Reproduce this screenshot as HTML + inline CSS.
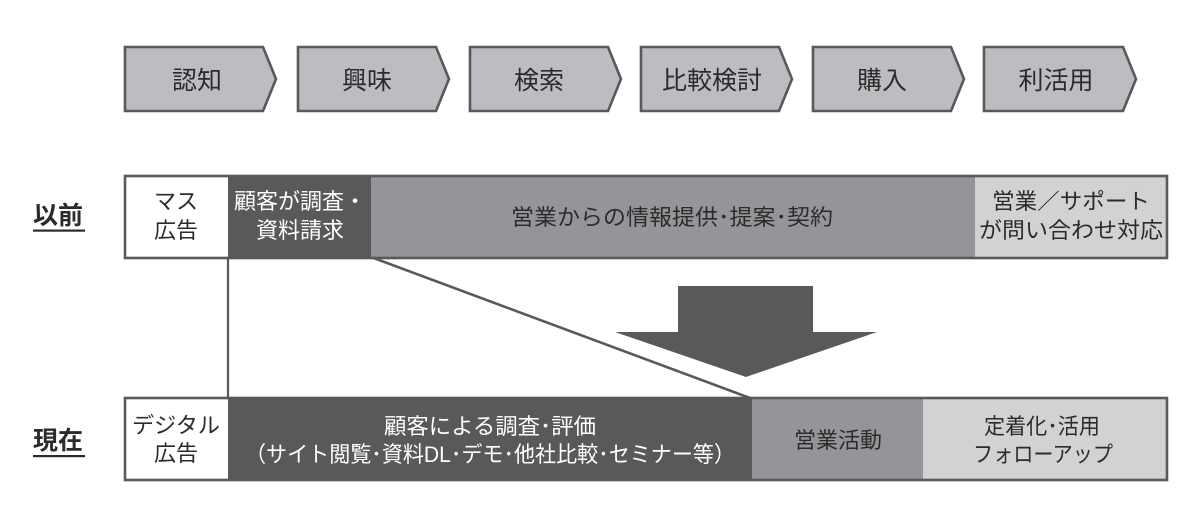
<!DOCTYPE html>
<html><head><meta charset="utf-8">
<style>
html,body{margin:0;padding:0;background:#fff;}
svg{display:block;}
text{font-family:"Liberation Sans","Noto Sans CJK JP",sans-serif;}
</style></head>
<body>
<svg width="1200" height="510" viewBox="0 0 1200 510" xmlns="http://www.w3.org/2000/svg">
<rect width="1200" height="510" fill="#fff"/>
<!-- chevrons -->
<g fill="#bcbdc0" stroke="#58595b" stroke-width="2.6" stroke-linejoin="miter">
<path d="M125,47 H263 L276,79 L263,111 H125 Z"/>
<path d="M298,47 H436 L449,79 L436,111 H298 Z"/>
<path d="M470,47 H608 L621,79 L608,111 H470 Z"/>
<path d="M641,47 H779 L792,79 L779,111 H641 Z"/>
<path d="M813,47 H951 L964,79 L951,111 H813 Z"/>
<path d="M984,47 H1123 L1136,79 L1123,111 H984 Z"/>
</g>
<g font-size="25" fill="#2b2b2b" text-anchor="middle">
<text x="197" y="89">認知</text>
<text x="367" y="89">興味</text>
<text x="539" y="89">検索</text>
<text x="712" y="89">比較検討</text>
<text x="882" y="89">購入</text>
<text x="1056" y="89">利活用</text>
</g>

<!-- labels -->
<g font-size="25" font-weight="bold" fill="#2b2b2b">
<text x="33" y="224">以前</text>
<rect x="33" y="229.5" width="52" height="2.2" fill="#2b2b2b"/>
<text x="33" y="449">現在</text>
<rect x="33" y="455" width="52" height="2.2" fill="#2b2b2b"/>
</g>

<!-- connectors -->
<line x1="228" y1="258" x2="228" y2="398" stroke="#58595b" stroke-width="2.2"/>
<line x1="371" y1="257" x2="750" y2="398" stroke="#58595b" stroke-width="2.6"/>

<!-- big arrow -->
<path d="M678,286 H813 V332 H877 L746,377 L615,332 H678 Z" fill="#58595b"/>

<!-- row 1 -->
<rect x="125" y="176" width="103" height="82" fill="#ffffff"/>
<rect x="228" y="176" width="143" height="82" fill="#58595b"/>
<rect x="371" y="176" width="604" height="82" fill="#939598"/>
<rect x="975" y="176" width="192" height="82" fill="#d1d2d4"/>
<rect x="125" y="176" width="1042" height="82" fill="none" stroke="#58595b" stroke-width="2.6"/>

<g font-size="22" text-anchor="middle">
<text x="176" y="209" fill="#2b2b2b">マス</text>
<text x="176" y="238" fill="#2b2b2b">広告</text>
<text x="300" y="209" fill="#ffffff" textLength="132" lengthAdjust="spacingAndGlyphs">顧客が調査・</text>
<text x="300" y="238" fill="#ffffff">資料請求</text>
<text x="672" y="225" fill="#2b2b2b" textLength="322" lengthAdjust="spacingAndGlyphs">営業からの情報提供･提案･契約</text>
<text x="1071" y="209" fill="#2b2b2b" textLength="158" lengthAdjust="spacingAndGlyphs">営業／サポート</text>
<text x="1071" y="238" fill="#2b2b2b" textLength="184" lengthAdjust="spacingAndGlyphs">が問い合わせ対応</text>
</g>

<!-- row 2 -->
<rect x="125" y="398" width="103" height="82" fill="#ffffff"/>
<rect x="228" y="398" width="524" height="82" fill="#58595b"/>
<rect x="752" y="398" width="171" height="82" fill="#939598"/>
<rect x="923" y="398" width="244" height="82" fill="#d1d2d4"/>
<rect x="125" y="398" width="1042" height="82" fill="none" stroke="#58595b" stroke-width="2.6"/>

<g font-size="22" text-anchor="middle">
<text x="176" y="433" fill="#2b2b2b" textLength="88" lengthAdjust="spacingAndGlyphs">デジタル</text>
<text x="176" y="461" fill="#2b2b2b">広告</text>
<text x="490" y="434" fill="#ffffff" textLength="212" lengthAdjust="spacingAndGlyphs">顧客による調査･評価</text>
<text x="490" y="462" fill="#ffffff" textLength="490" lengthAdjust="spacingAndGlyphs">（サイト閲覧･資料DL･デモ･他社比較･セミナー等）</text>
<text x="838" y="448" fill="#2b2b2b">営業活動</text>
<text x="1042" y="434" fill="#2b2b2b" textLength="116" lengthAdjust="spacingAndGlyphs">定着化･活用</text>
<text x="1043" y="462" fill="#2b2b2b" textLength="140" lengthAdjust="spacingAndGlyphs">フォローアップ</text>
</g>
</svg>
</body></html>
